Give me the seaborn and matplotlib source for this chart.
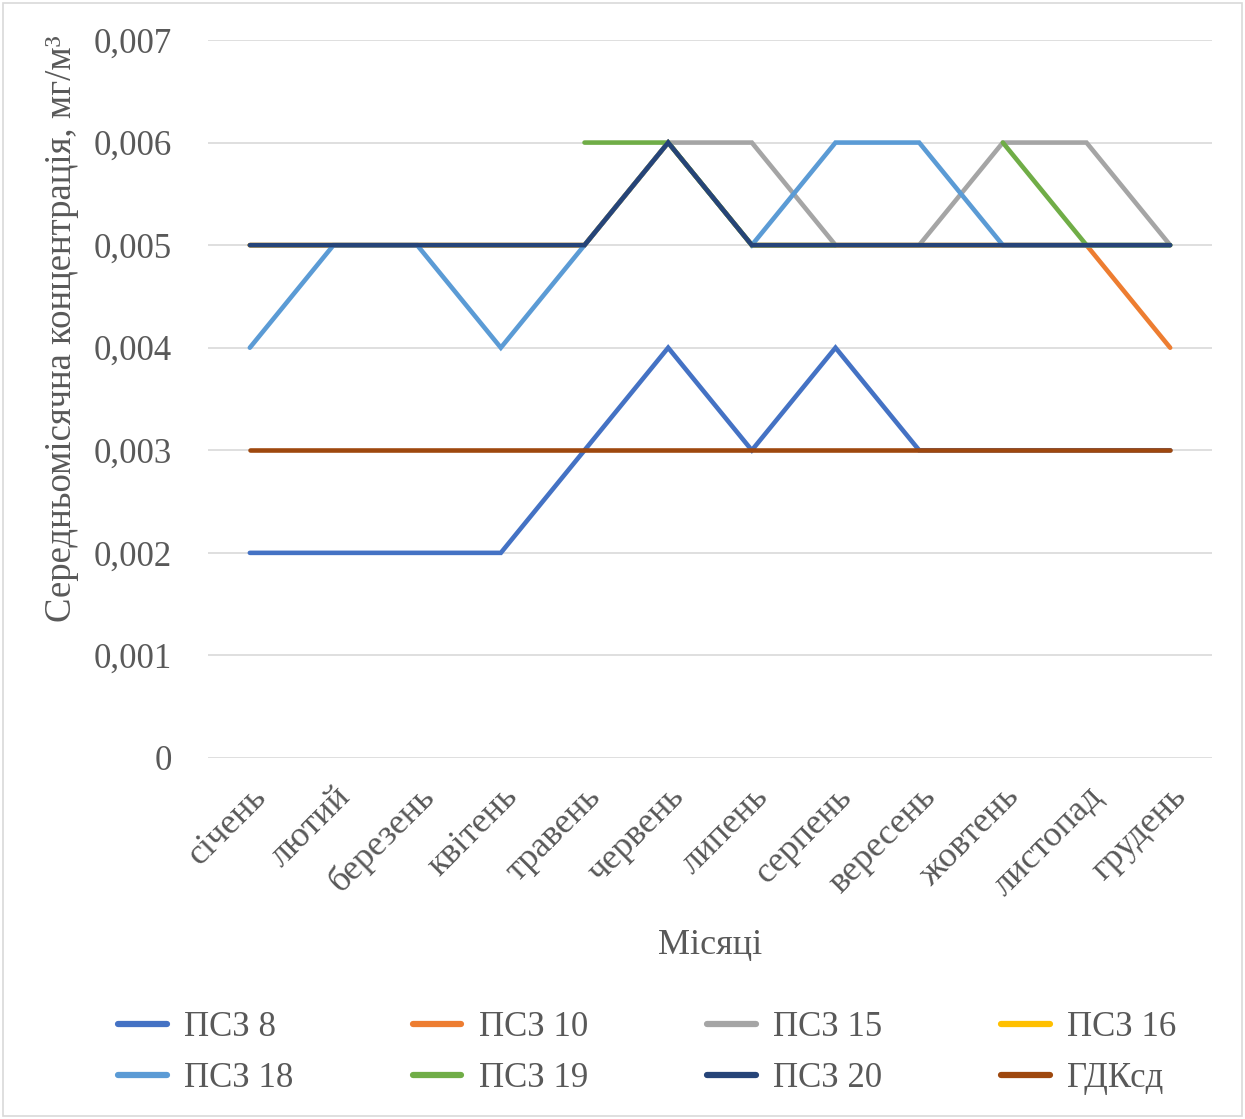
import numpy as np
import pandas as pd
import matplotlib
matplotlib.use("Agg")
import matplotlib.pyplot as plt
import seaborn as sns
from matplotlib.lines import Line2D
from matplotlib.patches import Rectangle

months = ["січень", "лютий", "березень", "квітень", "травень", "червень",
          "липень", "серпень", "вересень", "жовтень", "листопад", "грудень"]
series_names = ["ПСЗ 8", "ПСЗ 10", "ПСЗ 15", "ПСЗ 16", "ПСЗ 18", "ПСЗ 19", "ПСЗ 20", "ГДКсд"]
nan = np.nan
psz8 = [0.002, 0.002, 0.002, 0.002, 0.003, 0.004, 0.003, 0.004, 0.003, 0.003, 0.003, 0.003]
psz10 = [0.005, 0.005, 0.005, 0.005, 0.005, 0.006, 0.005, 0.005, 0.005, 0.005, 0.005, 0.004]
psz15 = [0.005, 0.005, 0.005, 0.005, 0.005, 0.006, 0.006, 0.005, 0.005, 0.006, 0.006, 0.005]
psz16 = [0.005, 0.005, 0.005, 0.005, 0.005, 0.006, 0.005, 0.005, 0.005, 0.005, 0.005, 0.005]
psz18 = [0.004, 0.005, 0.005, 0.004, 0.005, 0.006, 0.005, 0.006, 0.006, 0.005, 0.005, 0.005]
psz19 = [nan, nan, nan, nan, 0.006, 0.006, 0.005, 0.005, nan, 0.006, 0.005, 0.005]
psz20 = [0.005, 0.005, 0.005, 0.005, 0.005, 0.006, 0.005, 0.005, 0.005, 0.005, 0.005, 0.005]
gdk = [0.003] * 12
yticks = [0, 0.001, 0.002, 0.003, 0.004, 0.005, 0.006, 0.007]
ytick_labels = ["0", "0,001", "0,002", "0,003", "0,004", "0,005", "0,006", "0,007"]

colors = ["#4472C4", "#ED7D31", "#A5A5A5", "#FFC000", "#5B9BD5", "#70AD47", "#264478", "#9E480E"]

all_vals = [psz8, psz10, psz15, psz16, psz18, psz19, psz20, gdk]
rows = []
for name, vals in zip(series_names, all_vals):
    seg = 0
    for i, v in enumerate(vals):
        if np.isnan(v):
            seg += 1
            continue
        rows.append({"idx": i, "month": months[i], "series": name,
                     "seg": f"{name}_{seg}", "value": v})
df = pd.DataFrame(rows)

sns.set_theme(style="white")
plt.rcParams["font.family"] = ["Liberation Serif", "DejaVu Serif"]

fig = plt.figure(figsize=(12.45, 11.19), dpi=100)
ax = fig.add_axes([208 / 1245, 1 - 758 / 1119, (1212 - 208) / 1245, (758 - 40) / 1119])

palette = dict(zip(series_names, colors))
sns.lineplot(data=df, x="idx", y="value", hue="series", hue_order=series_names,
             units="seg", estimator=None,
             palette=palette, linewidth=3.3, sort=True, legend=False, ax=ax,
             solid_capstyle="round", solid_joinstyle="miter")

ax.set_xlim(-0.5, 11.5)
ax.set_ylim(0, 0.007)
ax.set_yticks(yticks)
ax.set_yticklabels(ytick_labels)
ax.set_xticks(range(12))
ax.set_xticklabels(months, rotation=45, ha="right", rotation_mode="anchor")
ax.tick_params(axis="y", length=0, pad=26, labelsize=25, labelcolor="#595959")
ax.tick_params(axis="x", length=0, pad=16, labelsize=26, labelcolor="#595959")
ax.grid(axis="y", color="#D9D9D9", linewidth=1.2)
ax.set_axisbelow(True)
for s in ax.spines.values():
    s.set_visible(False)

ax.set_ylabel("Середньомісячна концентрація, мг/м³", fontsize=26.5, color="#595959")
ax.yaxis.set_label_coords(-0.128, 0.598)
ax.set_xlabel("Місяці", fontsize=26, color="#595959")
ax.xaxis.set_label_coords(0.5, -0.238)

# legend order (row-wise in reference, matplotlib fills column-wise)
order = [0, 4, 1, 5, 2, 6, 3, 7]
handles = [Line2D([0], [0], color=colors[i], linewidth=4.5, solid_capstyle="round") for i in order]
labels = [series_names[i] for i in order]
leg = fig.legend(handles, labels, ncol=4, loc="center", bbox_to_anchor=(0.52, 0.059),
                 frameon=False, fontsize=25, handlelength=1.4, handletextpad=0.5,
                 columnspacing=3.43, labelspacing=0.5, labelcolor="#595959")

fig.patches.append(Rectangle((3 / 1245, 3 / 1119), 1 - 6 / 1245, 1 - 6 / 1119,
                             transform=fig.transFigure, fill=False,
                             edgecolor="#D9D9D9", linewidth=1.2))

fig.savefig("out.png", dpi=100, facecolor="white")
